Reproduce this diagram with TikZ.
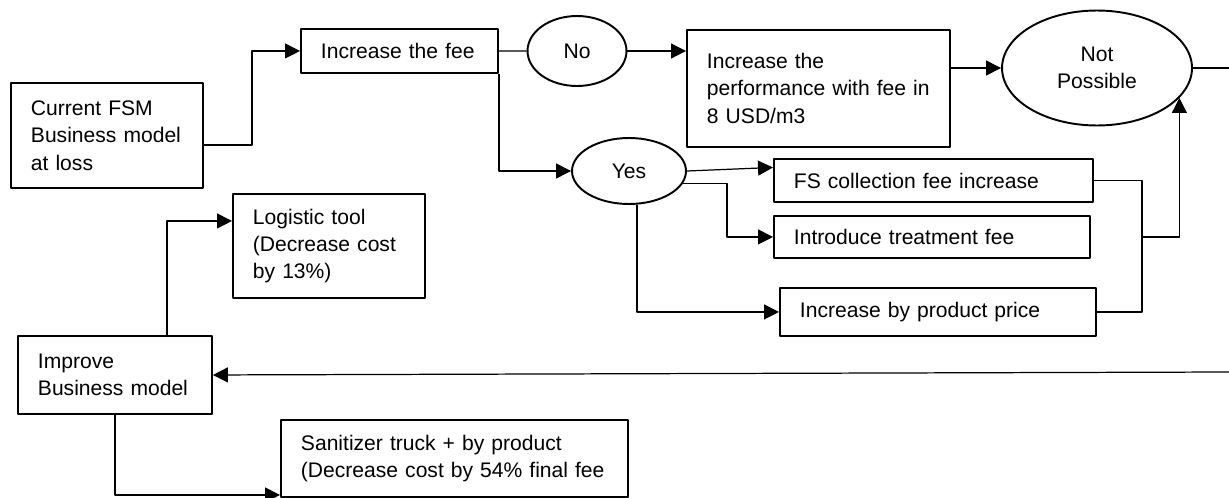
\documentclass[tikz,border=0pt]{standalone}
\usepackage{fontspec}
\setmainfont{Liberation Sans}
\usetikzlibrary{arrows.meta,shapes.geometric}
\begin{document}
\begin{tikzpicture}[>={Triangle[length=3mm,width=3mm]},line join=round,x=0.02cm,y=-0.02cm,font=\fontsize{12}{15.6}\selectfont]
				\tikzset{
						box/.style={draw,line width=1.1pt,anchor=north west,align=left,inner xsep=0.4cm,inner ysep=0pt},
						oval/.style={draw,ellipse,line width=1.1pt,inner sep=0pt,align=center},
						link/.style={line width=0.7pt},
				}
				\useasboundingbox (0,0) rectangle (1229,497);
				\node[box,minimum height=2.10cm,text width=3.04cm] (cur) at (10,82) {Current FSM\\Business model\\at loss};
				\node[box,minimum height=0.88cm,text width=3.14cm] (fee) at (300,28) {Increase the fee};
				\node[oval,minimum width=1.98cm,minimum height=1.40cm] (no) at (577,51) {No};
				\node[box,minimum height=2.34cm,text width=4.46cm] (perf) at (686,29) {Increase the\\performance with fee in\\8 USD/m3};
				\node[oval,minimum width=3.80cm,minimum height=2.30cm] (notp) at (1097,68) {Not\\Possible};
				\node[oval,minimum width=2.28cm,minimum height=1.32cm] (yes) at (629,171) {Yes};
				\node[box,minimum height=0.86cm,text width=5.58cm] (fsc) at (773,158) {FS collection fee increase};
				\node[box,minimum height=0.84cm,text width=5.52cm] (trt) at (773,215) {Introduce treatment fee};
				\node[box,minimum height=0.96cm,text width=5.52cm] (byp) at (779,287) {Increase by product price};
				\node[box,minimum height=2.08cm,text width=3.04cm] (log) at (232,193) {Logistic tool\\(Decrease cost\\by 13\%)};
				\node[box,minimum height=1.56cm,text width=3.08cm] (imp) at (17,335) {Improve\\Business model};
				\node[box,minimum height=1.54cm,text width=6.14cm] (san) at (280,419) {Sanitizer truck + by product\\(Decrease cost by 54\% final fee};
				\coordinate (rim) at (1229,68);
				\coordinate (jn) at (1142,237);
				\coordinate (back) at (1229,372);
				\draw[link,->] ([yshift=-0.19cm]cur.east) -- ++(48,0) |- (fee.west);
				\draw[link] (fee.east) -- (no.west);
				\draw[link,->] (no.east) -- (no.east -| perf.west);
				\draw[link,->] (notp.west -| perf.east) -- (notp.west);
				\draw[link] (notp.east) -- (rim);
				\draw[link,->] (fee.south east) |- (yes.west);
				\draw[link,->] (yes.east) -- ([yshift=0.26cm]fsc.west);
				\draw[link,->] (yes.-13) -- ++(44,0) |- (trt.west);
				\draw[link,->] ([xshift=0.16cm]yes.south) |- (byp.west);
				\draw[link] (fsc.east) -| (jn) |- (byp.east);
				\draw[link,->] (jn) -| (notp.-20);
				\draw[link,->] (back) -- (imp.east);
				\draw[link,->] ([xshift=1.04cm]imp.north) |- ([yshift=0.5cm]log.west);
				\draw[link,->] (imp.south) |- ([yshift=-0.73cm]san.west);
			\end{tikzpicture}
\end{document}
